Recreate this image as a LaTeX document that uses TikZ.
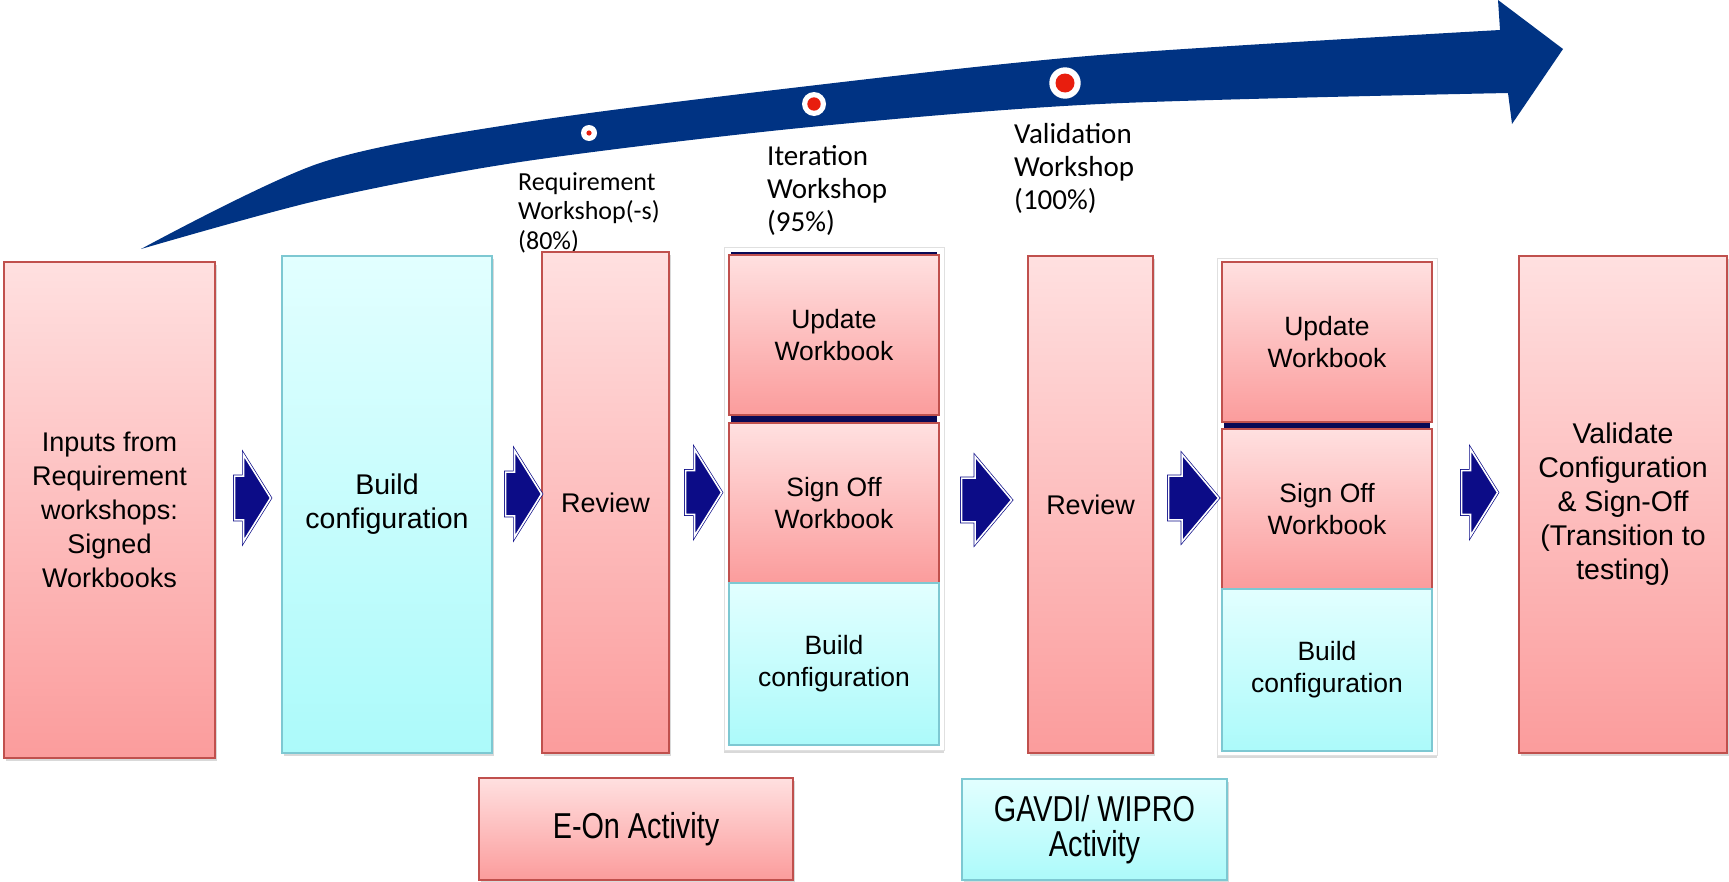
\documentclass[tikz,border=0pt]{standalone}
\usepackage{fontspec}
\setmainfont{Liberation Sans}
\newfontfamily\calfont{Carlito}
\newfontfamily\narrowfont[FakeStretch=0.8]{Liberation Sans}
\usepackage{tikz}
\usetikzlibrary{shapes.arrows}
\usetikzlibrary{shadows}

\definecolor{pinktop}{RGB}{255,224,224}
\definecolor{pinkbot}{RGB}{251,156,156}
\definecolor{pinkline}{RGB}{192,80,77}
\definecolor{cyantop}{RGB}{226,255,255}
\definecolor{cyanbot}{RGB}{172,250,250}
\definecolor{cyanline}{RGB}{125,200,210}
\definecolor{arrowblue}{RGB}{0,51,131}
\definecolor{blocknavy}{RGB}{12,12,135}
\definecolor{stripnavy}{RGB}{8,8,85}
\definecolor{dotred}{RGB}{232,30,14}

\begin{document}
\begin{tikzpicture}[x=1pt,y=-1pt,
  redbox/.style={draw=pinkline, line width=1.5pt, top color=pinktop, bottom color=pinkbot,
    inner sep=0pt, align=center, font=\fontsize{27}{34}\selectfont},
  cyanbox/.style={draw=cyanline, line width=1.5pt, top color=cyantop, bottom color=cyanbot,
    inner sep=0pt, align=center, font=\fontsize{27}{34}\selectfont},
  shadowed/.style={drop shadow={opacity=0.3, shadow xshift=2pt, shadow yshift=-3pt}},
  cell/.style={minimum width=210pt, font=\fontsize{26.5}{32}\selectfont},
  frame/.style={fill=white, draw=black!12, line width=1pt, minimum width=220pt, inner sep=0pt,
    drop shadow={opacity=0.3, shadow xshift=0pt, shadow yshift=-3pt}},
  stepper/.style={single arrow, draw=blocknavy, fill=blocknavy, double=white,
    double distance=1.6pt, line width=0.7pt, inner xsep=0pt, inner ysep=21.5pt,
    single arrow head extend=21.5pt, anchor=tip},
  shortstep/.style={stepper, minimum height=36pt, single arrow tip angle=116},
  longstep/.style={stepper, minimum height=50pt, single arrow tip angle=100},
  toplabel/.style={anchor=north west, inner sep=0pt, align=left}]
  \useasboundingbox (0,0) rectangle (1729,881);

  % big arrow on top
  \fill[arrowblue] plot[smooth] coordinates {(141,249) (320,163) (520,123) (800,87) (1100,55) (1500,30)}
    -- (1498,0) -- (1563,49) -- (1512,124) -- (1508,93)
    -- plot[smooth] coordinates {(1508,93) (1100,104) (800,128) (520,162) (320,200) (141,249)} -- cycle;

  \coordinate (m1) at (589,133);
  \coordinate (m2) at (814,104);
  \coordinate (m3) at (1065,83);
  \foreach \i/\r/\s in {1/8/2.6, 2/12/6.7, 3/15.7/9.5} {
    \fill[white] (m\i) circle (\r);
    \fill[dotred] (m\i) circle (\s);
  }

  \node[toplabel, font=\calfont\fontsize{26}{29.5}\selectfont] (lreq) at (518,172) {Requirement\\Workshop(-s)\\(80\%)};
  \node[toplabel, font=\calfont\fontsize{29}{33}\selectfont] (liter) at (767,145) {Iteration\\Workshop\\(95\%)};
  \node[toplabel, font=\calfont\fontsize{29}{33}\selectfont] (lval) at (1014,123) {Validation\\Workshop\\(100\%)};

  % main boxes
  \node[redbox, shadowed, minimum width=211pt, minimum height=496pt] (inputs) at (109.5,510)
    {Inputs from\\Requirement\\workshops:\\Signed\\Workbooks};
  \node[cyanbox, shadowed, minimum width=210pt, minimum height=497pt, font=\fontsize{28.5}{34}\selectfont] (build) at (387,504.5)
    {Build\\configuration};
  \node[redbox, shadowed, minimum width=127pt, minimum height=501pt] (review1) at (605.5,502.5) {Review};
  \node[redbox, shadowed, minimum width=125pt, minimum height=497pt] (review2) at (1090.5,504.5) {Review};
  \node[redbox, shadowed, minimum width=208pt, minimum height=497pt, font=\fontsize{28.5}{34}\selectfont] (validate) at (1623,504.5)
    {Validate\\Configuration\\\& Sign-Off\\(Transition to\\testing)};

  % first stack
  \node[frame, minimum height=503pt] (frame1) at (834,498.5) {};
  \fill[stripnavy] (731,252) rectangle (937,256);
  \fill[stripnavy] (731,414) rectangle (937,423);
  \node[redbox, cell, minimum height=160pt] (update1) at (834,335) {Update\\Workbook};
  \node[redbox, cell, minimum height=160pt] (sign1) at (834,503) {Sign Off\\Workbook};
  \node[cyanbox, cell, minimum height=162pt] (build1) at (834,664) {Build\\configuration};

  % second stack
  \node[frame, minimum height=497pt] (frame2) at (1327,506.5) {};
  \fill[stripnavy] (1224,421) rectangle (1430,430);
  \node[redbox, cell, minimum height=160pt] (update2) at (1327,342) {Update\\Workbook};
  \node[redbox, cell, minimum height=160pt] (sign2) at (1327,509) {Sign Off\\Workbook};
  \node[cyanbox, cell, minimum height=162pt] (build2) at (1327,670) {Build\\configuration};

  % steps between the boxes
  \node[shortstep] (a1) at (271,498) {};
  \node[shortstep] (a2) at (542,494) {};
  \node[shortstep] (a3) at (722,492.5) {};
  \node[longstep] (a4) at (1012,500) {};
  \node[longstep] (a5) at (1219,498) {};
  \node[shortstep] (a6) at (1498,492.5) {};

  % legend
  \node[redbox, shadowed, minimum width=314pt, minimum height=102pt, font=\narrowfont\fontsize{36}{35}\selectfont] (eon) at (636,829) {E-On Activity};
  \node[cyanbox, shadowed, minimum width=265pt, minimum height=101pt, font=\narrowfont\fontsize{36}{35}\selectfont] (gavdi) at (1094.5,829.5) {GAVDI/ WIPRO\\Activity};
\end{tikzpicture}
\end{document}
